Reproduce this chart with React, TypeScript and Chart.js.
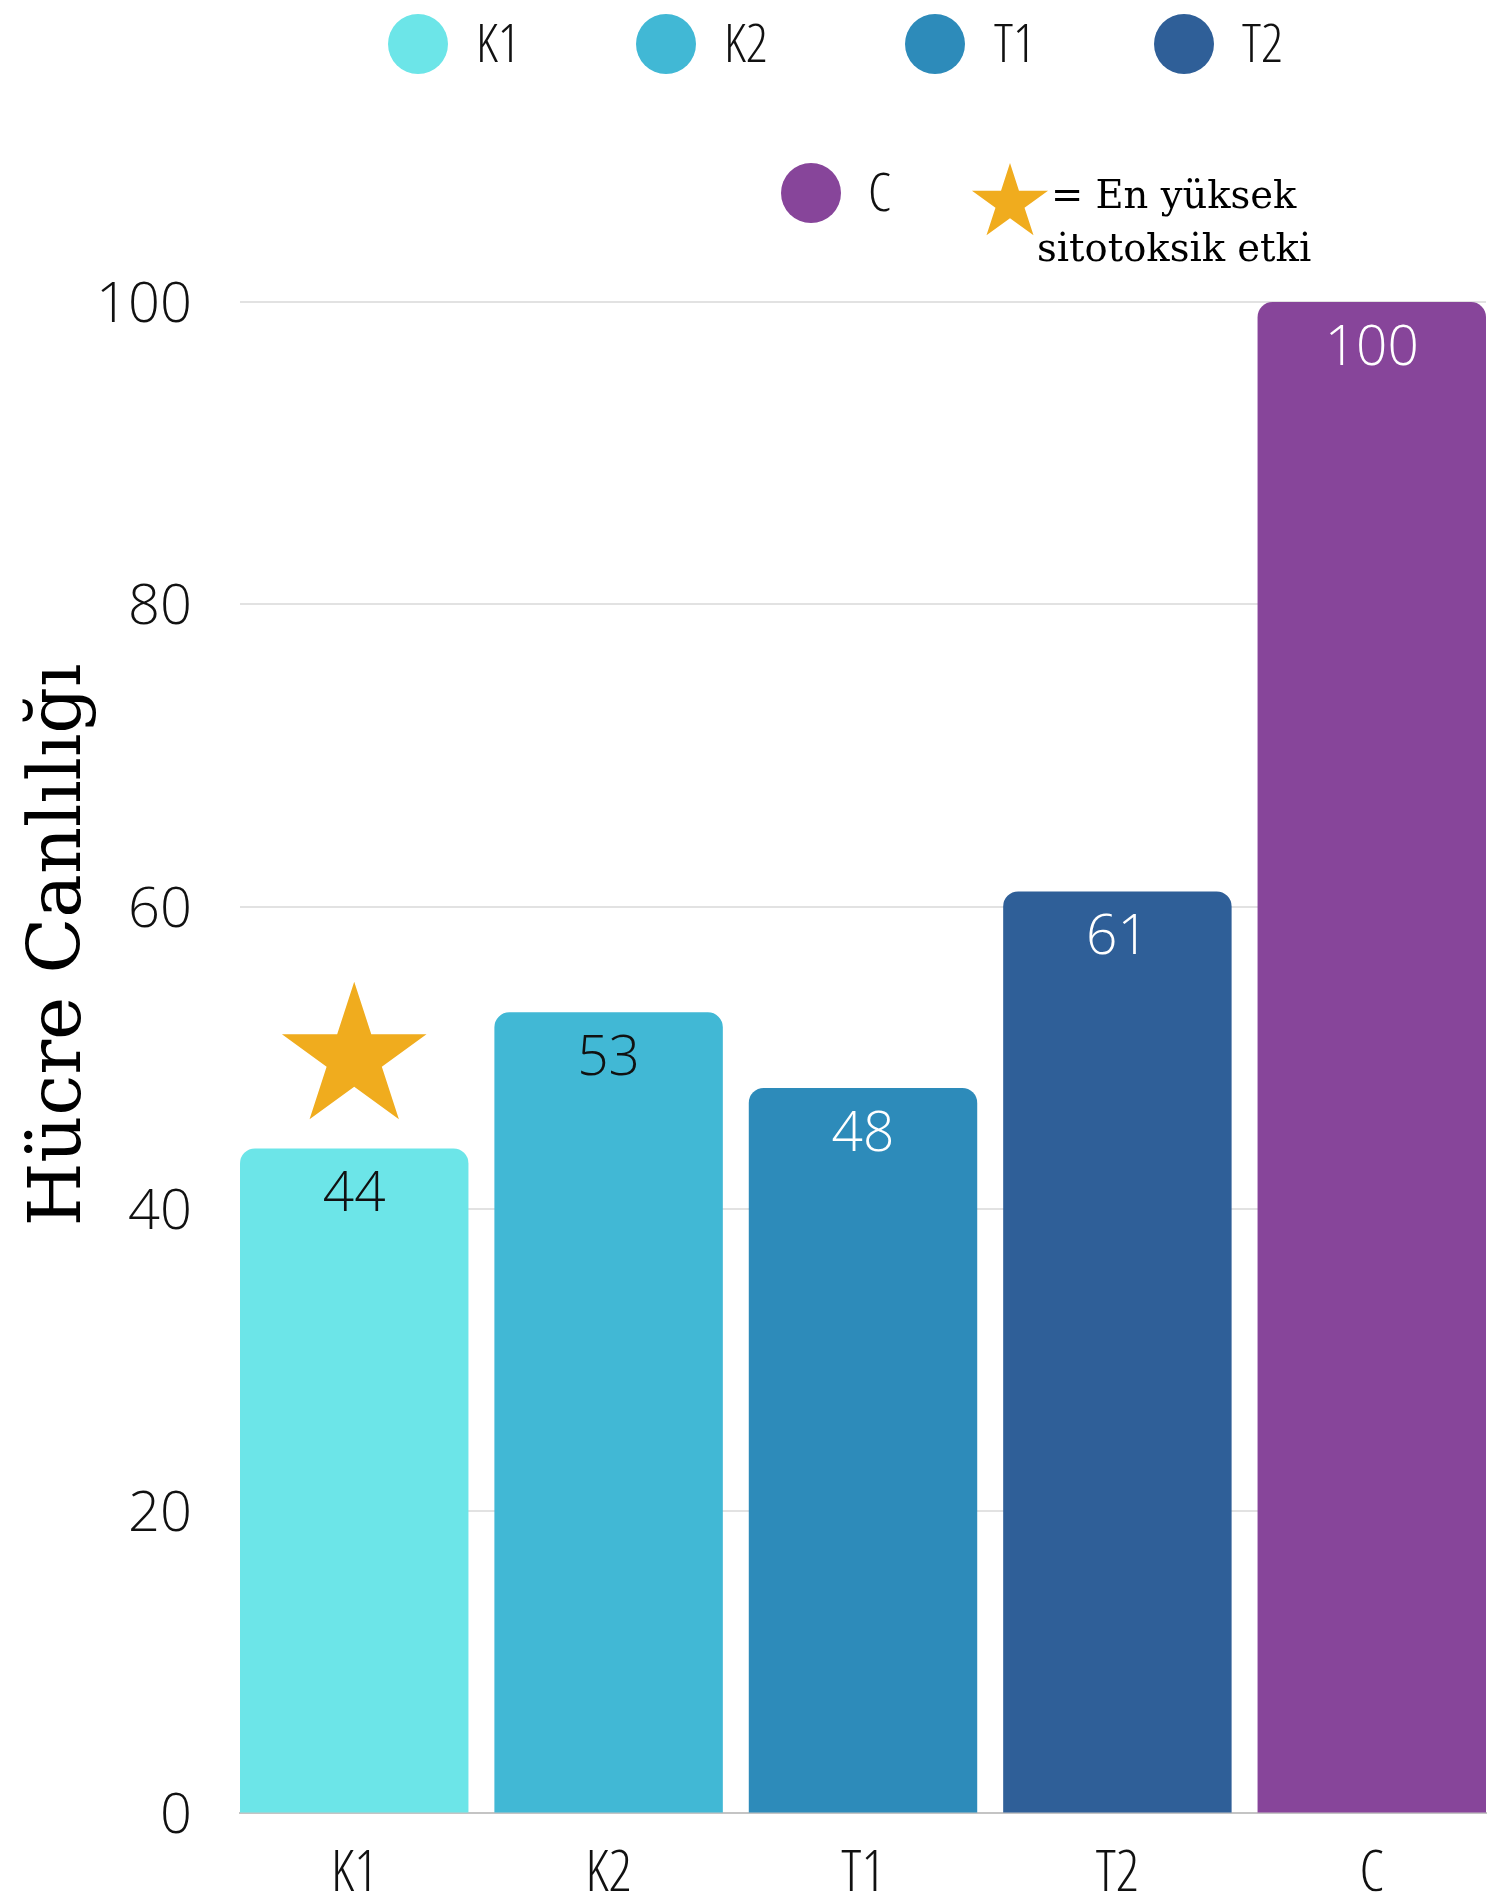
import React, { useEffect, useRef } from "react";
import { Chart, registerables } from "chart.js";

Chart.register(...registerables);

// ---------- data ----------
const categories = ["K1", "K2", "T1", "T2", "C"];
const viability = [44, 53, 48, 61, 100];
const barColors = ["#6CE5E8", "#41B8D5", "#2D8BBA", "#2F5F98", "#87459A"];
const valueLabelColors = ["#111111", "#111111", "#FFFFFF", "#FFFFFF", "#FFFFFF"];
const yAxisTitle = "Hücre Canlılığı";
const yMin = 0;
const yMax = 100;
const yStep = 20;
const starCategory = "K1";
const starValue = 50;
const starNoteLines = ["= En yüksek", "sitotoksik etki"];
const starColor = "#F0AC1E";

const W = 1491;
const H = 1895;
const SANS = "'Open Sans', 'DejaVu Sans Condensed', sans-serif";
const NUM_WEIGHT = "300";
const TXT_WEIGHT = "300 semi-condensed";
const SERIF = "'DejaVu Serif', serif";

function drawStar(ctx: CanvasRenderingContext2D, cx: number, cy: number, R: number, color: string) {
  const r = R * 0.382;
  ctx.save();
  ctx.beginPath();
  for (let i = 0; i < 10; i++) {
    const rad = i % 2 === 0 ? R : r;
    const a = -Math.PI / 2 + (i * Math.PI) / 5;
    const x = cx + rad * Math.cos(a);
    const y = cy + rad * Math.sin(a);
    if (i === 0) ctx.moveTo(x, y);
    else ctx.lineTo(x, y);
  }
  ctx.closePath();
  ctx.fillStyle = color;
  ctx.fill();
  ctx.restore();
}

const decorPlugin = {
  id: "decor",
  afterDatasetsDraw(chart: any) {
    const ctx: CanvasRenderingContext2D = chart.ctx;
    const meta = chart.getDatasetMeta(0);
    ctx.save();
    ctx.font = `${NUM_WEIGHT} 55px ${SANS}`;
    ctx.textAlign = "center";
    ctx.textBaseline = "middle";
    meta.data.forEach((bar: any, i: number) => {
      ctx.fillStyle = valueLabelColors[i];
      ctx.fillText(String(viability[i]), bar.x, bar.y + 47);
    });
    ctx.restore();

    const xs = chart.scales.x;
    const ys = chart.scales.y;
    const sx = xs.getPixelForValue(categories.indexOf(starCategory));
    const sy = ys.getPixelForValue(starValue);
    drawStar(ctx, sx, sy, 76, starColor);
  },
  afterDraw(chart: any) {
    const ctx: CanvasRenderingContext2D = chart.ctx;
    ctx.save();
    ctx.translate(80, 945);
    ctx.rotate(-Math.PI / 2);
    ctx.font = `73px ${SERIF}`;
    ctx.fillStyle = "#000";
    ctx.textAlign = "center";
    ctx.textBaseline = "alphabetic";
    ctx.fillText(yAxisTitle, 0, 0);
    ctx.restore();

    const legendPos = [
      { cx: 418, cy: 44, tx: 476 },
      { cx: 666, cy: 44, tx: 724 },
      { cx: 935, cy: 44, tx: 994 },
      { cx: 1184, cy: 44, tx: 1242 },
      { cx: 811, cy: 193, tx: 868 },
    ];
    ctx.save();
    ctx.font = `${TXT_WEIGHT} 54px ${SANS}`;
    ctx.textBaseline = "middle";
    ctx.textAlign = "left";
    categories.forEach((c, i) => {
      const p = legendPos[i];
      ctx.beginPath();
      ctx.arc(p.cx, p.cy, 30, 0, Math.PI * 2);
      ctx.fillStyle = barColors[i];
      ctx.fill();
      ctx.fillStyle = "#111";
      ctx.fillText(c, p.tx, p.cy + 3);
    });
    ctx.restore();

    drawStar(ctx, 1010, 203, 40, starColor);
    ctx.save();
    ctx.font = `38.5px ${SERIF}`;
    ctx.fillStyle = "#000";
    ctx.textAlign = "left";
    ctx.textBaseline = "alphabetic";
    ctx.fillText(starNoteLines[0], 1051, 208);
    ctx.fillText(starNoteLines[1], 1037, 261);
    ctx.restore();
  },
};

export default function App() {
  const ref = useRef<HTMLCanvasElement | null>(null);
  useEffect(() => {
    document.body.style.margin = "0";
    const canvas = ref.current;
    if (!canvas) return;
    const chart = new Chart(canvas, {
      type: "bar",
      data: {
        labels: categories,
        datasets: [
          {
            data: viability,
            backgroundColor: barColors,
            borderRadius: { topLeft: 15, topRight: 15, bottomLeft: 0, bottomRight: 0 },
            borderSkipped: "bottom",
            barPercentage: 0.898,
            categoryPercentage: 1,
          },
        ],
      },
      options: {
        responsive: false,
        animation: false,
        devicePixelRatio: 1,
        layout: { padding: { top: 302, right: 5, left: 0, bottom: 0 } },
        plugins: { legend: { display: false }, tooltip: { enabled: false } },
        scales: {
          x: {
            offset: false,
            grid: { display: false, drawTicks: false },
            border: { display: true, color: "#c4c4c4", width: 2 },
            ticks: { color: "#111", font: { family: SANS, size: 57, weight: TXT_WEIGHT as any }, padding: 27 },
            afterBuildTicks: (s: any) => {
              // bars flush with the plot edges: extend the category range by half a bar width
              const pad = 0.449;
              s._startValue = -pad;
              s._valueRange = categories.length - 1 + 2 * pad;
            },
            afterFit: (s: any) => {
              s.height = 78;
            },
          },
          y: {
            min: yMin,
            max: yMax,
            ticks: {
              stepSize: yStep,
              color: "#111",
              font: { family: SANS, size: 56, weight: NUM_WEIGHT as any },
              padding: 48,
              labelOffset: 4,
            },
            grid: { color: "#e2e2e2", lineWidth: 2, drawTicks: false },
            border: { display: false },
            afterFit: (s: any) => {
              s.width = 240;
            },
          },
        },
      },
      plugins: [decorPlugin],
    });
    return () => chart.destroy();
  }, []);
  return (
    <div style={{ width: W, height: H, background: "#fff" }}>
      <canvas ref={ref} width={W} height={H} style={{ display: "block" }} />
    </div>
  );
}
